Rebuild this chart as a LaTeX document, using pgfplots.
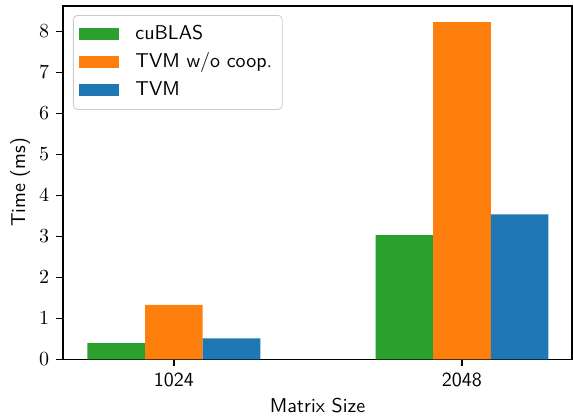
\documentclass[border=0pt]{standalone}
\usepackage{pgfplots}
\pgfplotsset{compat=1.18}

\definecolor{tabgreen}{HTML}{2CA02C}
\definecolor{taborange}{HTML}{FF7F0E}
\definecolor{tabblue}{HTML}{1F77B4}
\definecolor{legframe}{HTML}{CCCCCC}

\begin{document}
\begin{tikzpicture}
  % page = 573x419 px at 2 px per pt
  \useasboundingbox (-31.65pt,-29.85pt) rectangle (254.85pt,179.65pt);
  \begin{axis}[
      at={(0pt,0pt)}, anchor=south west,
      scale only axis,
      width=254.2pt, height=176.8pt,
      xmin=-0.384, xmax=1.381,
      ymin=0, ymax=8.63,
      xtick={0,1},
      xticklabels={1024,2048},
      xticklabel style={font=\sffamily},
      ytick={0,1,2,3,4,5,6,7,8},
      xtick pos=bottom, ytick pos=left,
      tick align=outside,
      major tick length=3.5pt,
      every tick/.style={black, line width=0.8pt},
      axis line style={line width=0.8pt},
      xlabel={\sffamily Matrix Size},
      ylabel={\sffamily Time (ms)},
      xlabel style={at={(axis description cs:0.5,-0.132)}, anchor=center},
      ylabel style={at={(axis description cs:-0.085,0.5)}, anchor=center, rotate=0},
      legend cell align=left,
      legend image code/.code={\fill[#1, sharp corners] (0pt,-3pt) rectangle (20pt,3pt);},
      legend style={
        at={(rel axis cs:0,1)}, anchor=north west,
        xshift=4.85pt, yshift=-4.65pt,
        draw=legframe, rounded corners=2pt, fill=white,
        font=\sffamily,
        inner xsep=3pt, inner ysep=3pt,
        row sep=1pt, column sep=6pt,
        nodes={inner sep=2pt, text height=7pt, text depth=2pt},
      },
    ]
    \addplot[ybar, bar width=0.2, bar shift=-0.2, fill=tabgreen, draw=none]
      coordinates {(0,0.395) (1,3.03)};
    \addlegendentry{cuBLAS}
    \addplot[ybar, bar width=0.2, bar shift=0, fill=taborange, draw=none]
      coordinates {(0,1.33) (1,8.23)};
    \addlegendentry{TVM w/o coop.}
    \addplot[ybar, bar width=0.2, bar shift=0.2, fill=tabblue, draw=none]
      coordinates {(0,0.51) (1,3.54)};
    \addlegendentry{TVM}
  \end{axis}
\end{tikzpicture}
\end{document}
